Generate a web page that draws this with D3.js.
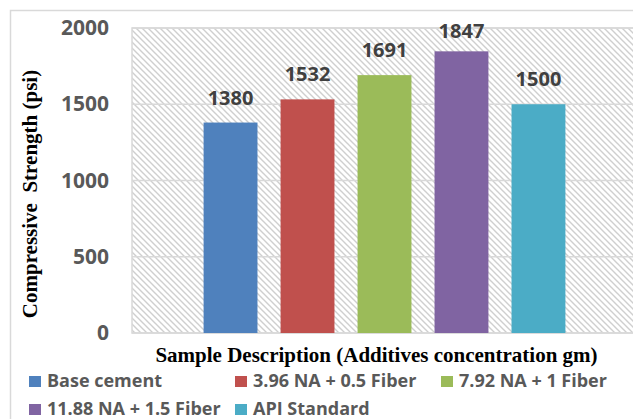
<!DOCTYPE html>
<html>
<head>
<meta charset="utf-8">
<script src="https://cdn.jsdelivr.net/npm/d3@7"></script>
<style>
  html, body { margin: 0; padding: 0; background: #ffffff; }
  svg { display: block; }
</style>
</head>
<body>
<svg id="chart" width="633" height="419"></svg>
<script>
// Compressive strength of cement samples by additive concentration
const seriesNames = [
  "Base cement",
  "3.96 NA + 0.5 Fiber",
  "7.92 NA + 1 Fiber",
  "11.88 NA + 1.5 Fiber",
  "API Standard"
];
const strengthValues = [1380, 1532, 1691, 1847, 1500];
const seriesColors = ["#4F81BD", "#C0504D", "#9BBB59", "#8064A2", "#4BACC6"];
const yTicks = [0, 500, 1000, 1500, 2000];
const yTitle = "Compressive\u00A0\u00A0Strength (psi)";
const xTitle = "Sample Description (Additives concentration gm)";

const svg = d3.select("#chart");
const W = 633, H = 419;

const plot = { left: 132, right: 637, top: 28, bottom: 333 };
const sansFont = "'Open Sans', 'DejaVu Sans', sans-serif";
const serifFont = "'Liberation Serif', 'Times New Roman', serif";

// hatched plot background
const defs = svg.append("defs");
const pat = defs.append("pattern")
  .attr("id", "hatch")
  .attr("patternUnits", "userSpaceOnUse")
  .attr("width", 6).attr("height", 6);
pat.append("rect").attr("width", 6).attr("height", 6).attr("fill", "#ffffff");
pat.append("path")
  .attr("d", "M-1,-1 L7,7 M-4,2 L2,8 M4,-2 L8,2")
  .attr("stroke", "#cfcfcf")
  .attr("stroke-width", 1.4);

// outer chart border
svg.append("rect")
  .attr("x", 10.5).attr("y", 10.5)
  .attr("width", W + 20).attr("height", H + 20)
  .attr("fill", "none")
  .attr("stroke", "#d9d9d9")
  .attr("stroke-width", 1.5);

const y = d3.scaleLinear().domain([0, 2000]).range([plot.bottom, plot.top]);
const x = d3.scaleBand()
  .domain(seriesNames)
  .range([plot.left, plot.right])
  .paddingInner(0.3)
  .paddingOuter(0.93);

// plot area
svg.append("rect")
  .attr("x", plot.left).attr("y", plot.top)
  .attr("width", plot.right - plot.left)
  .attr("height", plot.bottom - plot.top)
  .attr("fill", "url(#hatch)")
  .attr("stroke", "#d9d9d9")
  .attr("stroke-width", 1.5);

// gridlines
svg.append("g")
  .selectAll("line")
  .data(yTicks)
  .join("line")
  .attr("x1", plot.left).attr("x2", plot.right)
  .attr("y1", d => y(d)).attr("y2", d => y(d))
  .attr("stroke", "#d9d9d9")
  .attr("stroke-width", 1.5);

// y axis labels
const yAxis = d3.axisLeft(y).tickValues(yTicks).tickSize(0).tickPadding(0).tickFormat(d3.format("d"));
const yg = svg.append("g")
  .attr("transform", `translate(${plot.left - 23},0)`)
  .call(yAxis);
yg.select(".domain").remove();
yg.selectAll("text")
  .attr("font-family", sansFont)
  .attr("font-weight", "bold")
  .attr("font-size", 21)
  .attr("fill", "#595959");

// bars
const data = seriesNames.map((name, i) => ({ name, value: strengthValues[i], color: seriesColors[i] }));
svg.append("g")
  .selectAll("rect")
  .data(data)
  .join("rect")
  .attr("x", d => x(d.name))
  .attr("y", d => y(d.value))
  .attr("width", x.bandwidth())
  .attr("height", d => y(0) - y(d.value))
  .attr("fill", d => d.color);

// value labels
svg.append("g")
  .selectAll("text")
  .data(data)
  .join("text")
  .attr("x", d => x(d.name) + x.bandwidth() / 2)
  .attr("y", d => Math.max(y(d.value) - 18, 38))
  .attr("text-anchor", "middle")
  .attr("font-family", sansFont)
  .attr("font-weight", "bold")
  .attr("font-size", 20)
  .attr("fill", "#404040")
  .text(d => d.value);

// axis titles
svg.append("text")
  .attr("transform", `translate(37,194) rotate(-90)`)
  .attr("text-anchor", "middle")
  .attr("font-family", serifFont)
  .attr("font-weight", "bold")
  .attr("font-size", 21)
  .attr("fill", "#000000")
  .text(yTitle);

svg.append("text")
  .attr("x", 376.5).attr("y", 362)
  .attr("text-anchor", "middle")
  .attr("font-family", serifFont)
  .attr("font-weight", "bold")
  .attr("font-size", 21)
  .attr("fill", "#000000")
  .text(xTitle);

// legend
const legCols = [29, 235, 441];
const legRows = [387, 415];
const leg = svg.append("g")
  .selectAll("g")
  .data(data)
  .join("g")
  .attr("transform", (d, i) => `translate(${legCols[i % 3]},${legRows[Math.floor(i / 3)]})`);
leg.append("rect")
  .attr("x", 0).attr("y", -11)
  .attr("width", 12).attr("height", 11)
  .attr("fill", d => d.color);
leg.append("text")
  .attr("x", 18).attr("y", 0)
  .attr("font-family", sansFont)
  .attr("font-weight", "bold")
  .attr("font-size", 18)
  .attr("fill", "#595959")
  .text(d => d.name);
</script>
</body>
</html>
